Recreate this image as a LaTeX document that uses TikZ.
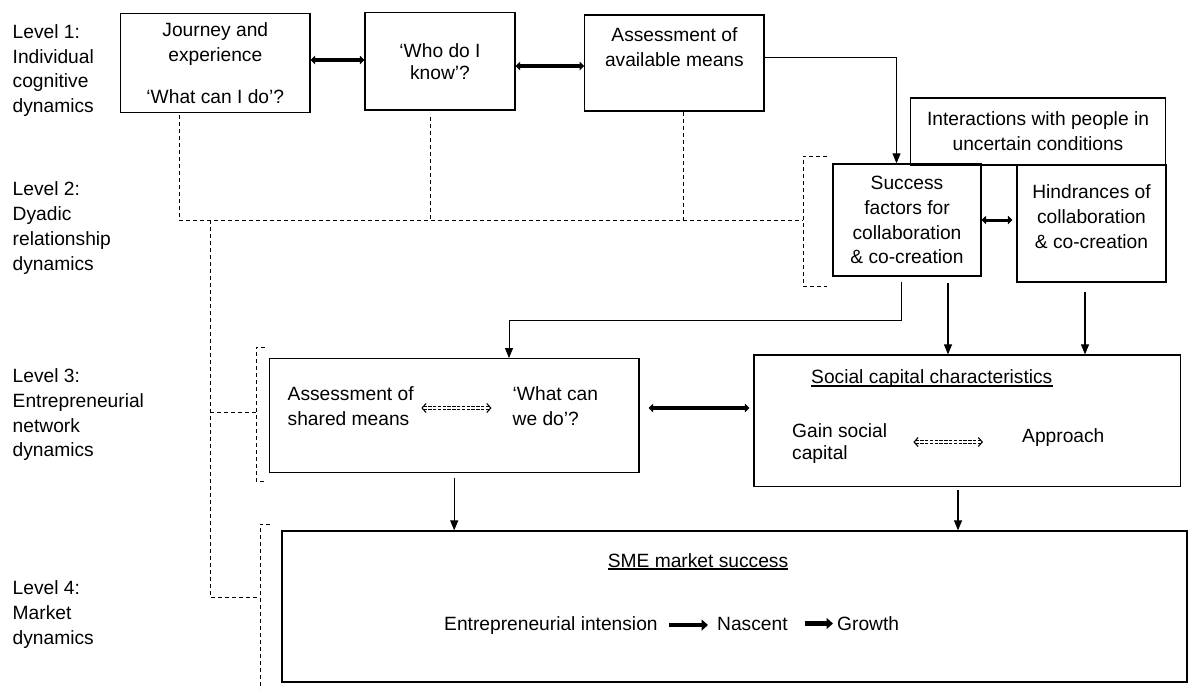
\documentclass[tikz,border=0pt]{standalone}
\usepackage{fontspec}
\setmainfont{Liberation Sans}
\usetikzlibrary{arrows.meta}

\begin{document}
\begin{tikzpicture}[x=1pt, y=-1pt,
    every node/.style={font=\fontsize{19.2pt}{24.8pt}\selectfont, inner sep=0pt},
    box/.style={draw, line width=1.3pt, align=center},
    lbl/.style={align=left, anchor=west},
    pairarrow/.style={line width=3.6pt, {Triangle[length=4.5pt,width=8.5pt]}-{Triangle[length=4.5pt,width=8.5pt]}},
    feedarrow/.style={line width=1.1pt, -{Triangle[length=10pt,width=8pt]}},
    hollowshaft/.style={double, double distance=2.4pt, line width=0.9pt, dash pattern=on 3.5pt off 1.3pt},
    hollowtip/.style={white, line width=0.2pt, {Straight Barb[length=4pt,width=9pt,color=black,line width=1.1pt]}-{Straight Barb[length=4pt,width=9pt,color=black,line width=1.1pt]}},
    levelline/.style={line width=0.9pt, dash pattern=on 4pt off 3pt},
    stagearrow/.style={line width=4.4pt, -{Triangle[length=6.5pt,width=11pt]}}]
  \useasboundingbox (0,0) rectangle (1189,689);
  \draw
    (12.5,70.5) node[lbl] (lvl1) {Level 1:\\Individual\\cognitive\\dynamics}
    (12.5,228) node[lbl] (lvl2) {Level 2:\\Dyadic\\relationship\\dynamics}
    (12.5,414.7) node[lbl] (lvl3) {Level 3:\\Entrepreneurial\\network\\dynamics}
    (12.5,614.5) node[lbl] (lvl4) {Level 4:\\Market\\dynamics};
  \draw
    (215.3,63) node[box, minimum width=189.3pt, minimum height=99.4pt] (journey) {Journey and\\experience\\[17pt]‘What can I do’?}
    (440,61.4) node[box, minimum width=150pt, minimum height=97.3pt] (who) {‘Who do I\\[-3pt]know’?}
    (674.4,63) node[box, minimum width=179.3pt, minimum height=96pt] (avail) {}
    (674.4,47.2) node[align=center] (availtxt) {Assessment of\\available means}
    (1038,131.5) node[box, minimum width=255pt, minimum height=67pt] (interact) {Interactions with people in\\uncertain conditions}
    (907,220) node[box, minimum width=148pt, minimum height=112pt] (succ) {Success\\factors for\\collaboration\\\& co-creation}
    (1091.5,223.5) node[box, minimum width=149pt, minimum height=117pt] (hind) {}
    (1091.5,216.5) node[align=center] (hindtxt) {Hindrances of\\collaboration\\\& co-creation}
    (454.2,415.7) node[box, minimum width=369.6pt, minimum height=114pt] (shared) {}
    (287.5,406) node[lbl] (shrtxt) {Assessment of\\shared means}
    (512.5,406) node[lbl] (whattxt) {‘What can\\we do’?}
    (967.4,420.9) node[box, minimum width=426.7pt, minimum height=131.7pt] (social) {}
    (811,383.5) node[anchor=base west] (socttl) {Social capital characteristics}
    (792,443.5) node[lbl] (gaintxt) {Gain social\\[-3pt]capital}
    (1022,442) node[anchor=base west] (apprtxt) {Approach}
    (734.5,606.5) node[box, minimum width=905pt, minimum height=151pt] (sme) {}
    (698,567) node[anchor=base] (smettl) {SME market success}
    (444,630) node[anchor=base west] (entr) {Entrepreneurial intension}
    (717,630) node[anchor=base west] (nasc) {Nascent}
    (837,630) node[anchor=base west] (grow) {Growth};
  % underlined headings
  \draw[line width=1.2pt] ([yshift=-2.5pt]socttl.base west) -- ([yshift=-2.5pt]socttl.base east);
  \draw[line width=1.2pt] ([yshift=-2pt]smettl.base west) -- ([yshift=-2pt]smettl.base east);
  \coordinate (turn) at (509,320);
  \begin{scope}[pairarrow]
    \draw (journey.east |- 0,60) -- (who.west |- 0,60);
    \draw (who.east |- 0,66) -- (avail.west |- 0,66);
    \draw[line width=3pt, shorten >=4pt] (succ.east) -- (succ.east -| hind.west);
    \draw[shorten <=9pt, shorten >=4pt] (shared.east |- 0,408) -- (social.west |- 0,408);
  \end{scope}
  \begin{scope}[feedarrow]
    \draw[line width=0.9pt] (avail.east |- 0,57) -| ([xshift=-10.5pt]succ.north);
    \draw[line width=0.8pt, shorten <=5pt] ([xshift=-6pt]succ.south) |- (turn) -- (turn |- shared.north);
    \draw[shorten <=6pt] ([xshift=41pt]succ.south) -- ([xshift=41pt]succ.south |- social.north);
    \draw[shorten <=9pt] ([xshift=-6.5pt]hind.south) -- ([xshift=-6.5pt]hind.south |- social.north);
    \draw[shorten <=5pt] (shared.south) -- (shared.south |- sme.north);
    \draw[shorten <=3pt] ([xshift=-9.4pt]social.south) -- ([xshift=-9.4pt]social.south |- sme.north);
  \end{scope}
  % dashed two-way links
  \draw[hollowshaft, shorten <=9.5pt, shorten >=23pt] (shrtxt.east |- 0,408) -- (whattxt.west |- 0,408);
  \draw[hollowtip, shorten <=7.5pt, shorten >=21pt] (shrtxt.east |- 0,408) -- (whattxt.west |- 0,408);
  \draw[hollowshaft, shorten <=28pt, shorten >=41pt] (gaintxt.east |- 0,442) -- (apprtxt.west |- 0,442);
  \draw[hollowtip, shorten <=26pt, shorten >=39pt] (gaintxt.east |- 0,442) -- (apprtxt.west |- 0,442);
  \begin{scope}[stagearrow]
    \draw[shorten <=11pt, shorten >=9pt] (entr.east) -- (entr.east -| nasc.west);
    \draw[shorten <=17pt, shorten >=4pt] (nasc.east) -- (nasc.east -| grow.west);
  \end{scope}
  \begin{scope}[levelline]
    \draw[shorten <=2pt] (journey.south -| 179,0) -- (179,220) -- (803,220);
    \draw[shorten <=6pt] (who.south -| 430,0) -- (430,220);
    \draw (avail.south -| 683.7,0) -- (683.7,220);
    \draw (827,156) -- (803,156) -- (803,286) -- (827,286);
    \draw (210,220) -- (210,597) -- (260,597);
    \draw (210,412) -- (256,412);
    \draw (265,347) -- (256,347) -- (256,481) -- (265,481);
    \draw (270,524) -- (260,524) -- (260,689);
  \end{scope}
\end{tikzpicture}
\end{document}
